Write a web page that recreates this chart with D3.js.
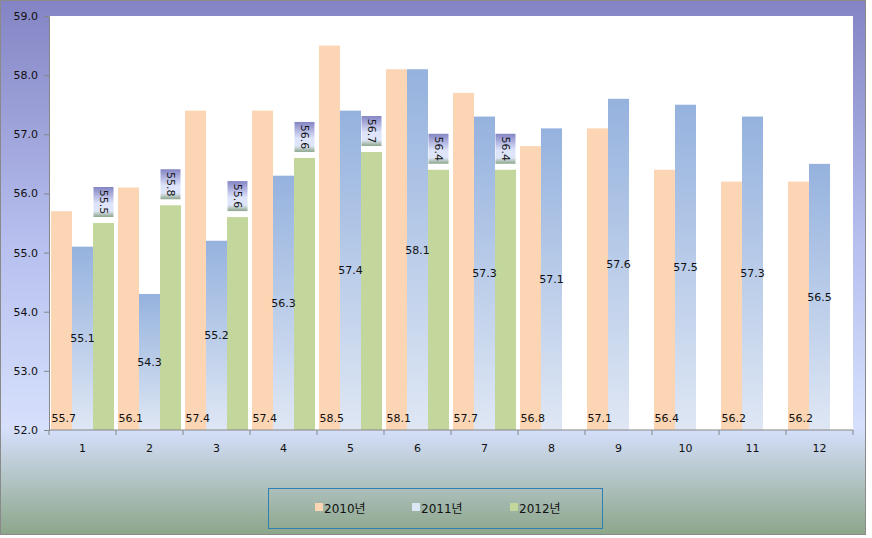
<!DOCTYPE html>
<html><head><meta charset="utf-8">
<script src="https://cdn.jsdelivr.net/npm/d3@7"></script>
<style>body{margin:0;background:#fff}svg{display:block}text{font-family:"DejaVu Sans","Noto Sans CJK KR",sans-serif}</style>
</head><body>
<script>
const months = ["1","2","3","4","5","6","7","8","9","10","11","12"];
const seriesNames = ["2010년","2011년","2012년"];
const v2010 = [55.7,56.1,57.4,57.4,58.5,58.1,57.7,56.8,57.1,56.4,56.2,56.2];
const v2011 = [55.1,54.3,55.2,56.3,57.4,58.1,57.3,57.1,57.6,57.5,57.3,56.5];
const v2012 = [55.5,55.8,55.6,56.6,56.7,56.4,56.4];
const yTicks = [52,53,54,55,56,57,58,59];

const W=872,H=538;
const svg=d3.select("body").append("svg").attr("width",W).attr("height",H);
const defs=svg.append("defs");
const bg=defs.append("linearGradient").attr("id","bg").attr("x1",0).attr("y1",0).attr("x2",0).attr("y2",1);
[[0,"#8484c4"],[0.45,"#b6bfee"],[0.8,"#d6e0fc"],[1,"#8ca68a"]].forEach(s=>bg.append("stop").attr("offset",s[0]).attr("stop-color",s[1]));
const bl=defs.append("linearGradient").attr("id","blue").attr("x1",0).attr("y1",0).attr("x2",0).attr("y2",1);
[[0,"#95b2de"],[1,"#dfe7f4"]].forEach(s=>bl.append("stop").attr("offset",s[0]).attr("stop-color",s[1]));
const lb=defs.append("linearGradient").attr("id","lbl").attr("x1",0).attr("y1",0).attr("x2",0).attr("y2",1);
[[0,"#8484c4"],[0.55,"#dde4fb"],[0.8,"#dfe6f8"],[1,"#8ca68a"]].forEach(s=>lb.append("stop").attr("offset",s[0]).attr("stop-color",s[1]));

svg.append("rect").attr("x",0.5).attr("y",0.5).attr("width",865).attr("height",534).attr("fill","url(#bg)").attr("stroke","#8a8a8a");

const m={l:49,r:853,t:16,b:430};
svg.append("rect").attr("x",m.l).attr("y",m.t).attr("width",m.r-m.l).attr("height",m.b-m.t).attr("fill","#fff");

const x=d3.scaleBand().domain(months).range([m.l,m.r]).paddingInner(0.06).paddingOuter(0.03);
const xs=d3.scaleBand().domain([0,1,2]).range([0,x.bandwidth()]);
const y=d3.scaleLinear().domain([52,59]).range([m.b,m.t]);
const fills=["#fcd5b4","url(#blue)","#c3d69b"];
const data=[v2010,v2011,v2012];

data.forEach((vals,si)=>{
  const g=svg.append("g");
  g.selectAll("rect").data(vals).join("rect")
    .attr("x",(d,i)=>x(months[i])+xs(si)).attr("width",xs.bandwidth())
    .attr("y",d=>y(d)).attr("height",d=>y(52)-y(d)).attr("fill",fills[si]);
});

// labels 2010: inside base
svg.append("g").selectAll("text").data(v2010).join("text")
  .attr("x",(d,i)=>x(months[i])+xs(0)+0.5).attr("y",y(52)-8)
  .attr("font-size",11).attr("fill","#111").text(d=>d.toFixed(1));
// labels 2011: center
svg.append("g").selectAll("text").data(v2011).join("text")
  .attr("x",(d,i)=>x(months[i])+xs(1)+xs.bandwidth()/2).attr("y",d=>(y(d)+y(52))/2+4)
  .attr("text-anchor","middle").attr("font-size",11).attr("fill","#111").text(d=>d.toFixed(1));
// labels 2012: outside end, rotated
const lg=svg.append("g").selectAll("g").data(v2012).join("g")
  .attr("transform",(d,i)=>`translate(${x(months[i])+xs(2)+xs.bandwidth()/2},${y(d)-6})`);
lg.append("rect").attr("x",-10).attr("y",-30).attr("width",20).attr("height",30).attr("fill","url(#lbl)");
lg.append("text").attr("transform","translate(0,-15) rotate(90)").attr("text-anchor","middle").attr("dy","0.35em")
  .attr("font-size",11).attr("fill","#111").text(d=>d.toFixed(1));

// axes
const ya=svg.append("g").attr("transform",`translate(${m.l},0)`)
  .call(d3.axisLeft(y).tickValues(yTicks).tickFormat(d3.format(".1f")).tickSize(5).tickPadding(6));
ya.select(".domain").attr("stroke","#868686");
ya.selectAll(".tick line").attr("stroke","#868686");
ya.selectAll("text").attr("font-size",11).attr("fill","#111").attr("font-family","DejaVu Sans");

const xa=svg.append("g").attr("transform",`translate(0,${m.b})`);
xa.append("line").attr("x1",m.l).attr("x2",m.r).attr("stroke","#868686");
const step=x.step();
const bounds=d3.range(13).map(i=>m.l+(m.r-m.l)*i/12);
xa.selectAll(".tk").data(bounds).join("line").attr("x1",d=>d).attr("x2",d=>d).attr("y1",0).attr("y2",5).attr("stroke","#868686");
xa.selectAll(".lb").data(months).join("text").attr("x",(d,i)=>(bounds[i]+bounds[i+1])/2).attr("y",22)
  .attr("text-anchor","middle").attr("font-size",11).attr("fill","#111").text(d=>d);

// legend
const leg=svg.append("g");
leg.append("rect").attr("x",268.5).attr("y",488.5).attr("width",334).attr("height",40).attr("fill","none").attr("stroke","#2f7fb5").attr("stroke-width",1);
const legFill=["#fcd5b4","#dce6f4","#c3d69b"];
const legX=[315,412,510];
seriesNames.forEach((n,i)=>{
  leg.append("rect").attr("x",legX[i]).attr("y",503).attr("width",8).attr("height",8).attr("fill",legFill[i]);
  leg.append("text").attr("x",legX[i]+9).attr("y",513).attr("font-size",12).attr("fill","#111").text(n);
});
</script>
</body></html>
